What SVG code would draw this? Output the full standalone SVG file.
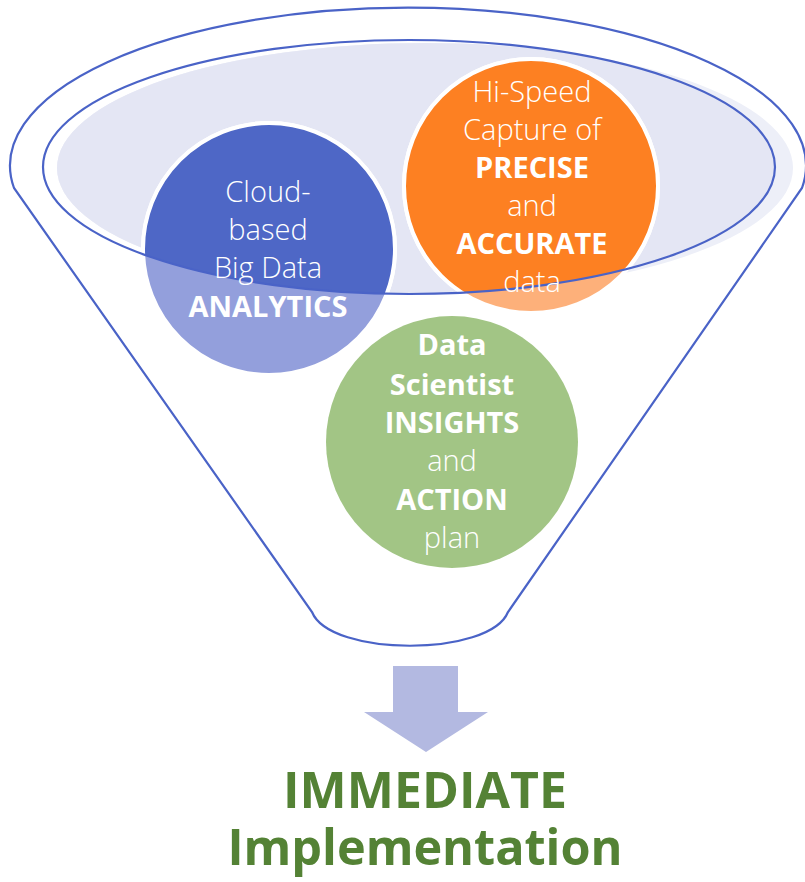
<svg xmlns="http://www.w3.org/2000/svg" width="805" height="882" viewBox="0 0 805 882">
  <style>
    .line { fill: none; stroke: #4A63C7; stroke-width: 2.2; }
    .ring { stroke: #FFFFFF; stroke-width: 4; }
    .t { font-family: "Open Sans", "Noto Sans", "Liberation Sans", sans-serif; font-size: 29px; fill: #FFFFFF; text-anchor: middle; font-weight: 300; }
    .b { font-weight: 700; }
    .big { font-family: "Open Sans", "Noto Sans", "Liberation Sans", sans-serif; font-size: 50px; font-weight: 700; fill: #548235; text-anchor: middle; }
  </style>
  <defs>
    <clipPath id="innerClip">
      <ellipse cx="409" cy="167" rx="366" ry="127"/>
    </clipPath>
  </defs>

  <rect width="805" height="882" fill="#FFFFFF"/>

  <g id="funnel">
    <path class="line" d="M14,188 A398,158 0 1 1 802,188 L508,612 C490,657 330,657 312,612 Z"/>
    <ellipse cx="425" cy="168" rx="368" ry="125" fill="#EDEFF8"/>
    <ellipse cx="425" cy="168" rx="368" ry="125" fill="#E4E6F4" clip-path="url(#innerClip)"/>
  </g>

  <g id="node-analytics">
    <circle class="ring" cx="269" cy="249" r="126" fill="#939FDC"/>
    <circle class="ring" cx="269" cy="249" r="126" fill="#4E67C6" clip-path="url(#innerClip)"/>
  </g>

  <g id="node-capture">
    <circle class="ring" cx="531" cy="186" r="127" fill="#FDB07A"/>
    <circle class="ring" cx="531" cy="186" r="127" fill="#FD8022" clip-path="url(#innerClip)"/>
  </g>

  <g id="node-insights">
    <circle cx="452" cy="442" r="126" fill="#A2C585"/>
  </g>

  <ellipse id="funnel-rim" class="line" cx="409" cy="167" rx="366" ry="127"/>

  <g id="labels">
    <text class="t" x="268" y="202">Cloud-</text>
    <text class="t" x="268" y="240">based</text>
    <text class="t" x="268" y="278">Big Data</text>
    <text class="t b" x="268" y="317">ANALYTICS</text>

    <text class="t" x="532" y="102">Hi-Speed</text>
    <text class="t" x="532" y="140">Capture of</text>
    <text class="t b" x="532" y="178">PRECISE</text>
    <text class="t" x="532" y="216">and</text>
    <text class="t b" x="532" y="254">ACCURATE</text>
    <text class="t" x="532" y="292">data</text>

    <text class="t b" x="452" y="355">Data</text>
    <text class="t b" x="452" y="395">Scientist</text>
    <text class="t b" x="452" y="433">INSIGHTS</text>
    <text class="t" x="452" y="471">and</text>
    <text class="t b" x="452" y="510">ACTION</text>
    <text class="t" x="452" y="548">plan</text>
  </g>

  <g id="connectors">
    <polygon points="393,666 458,666 458,712 488,712 426,752 364,712 393,712" fill="#B3B9E1"/>
  </g>

  <g id="result">
    <text class="big" x="425" y="808">IMMEDIATE</text>
    <text class="big" x="425" y="865" textLength="395" lengthAdjust="spacingAndGlyphs">Implementation</text>
  </g>
</svg>
